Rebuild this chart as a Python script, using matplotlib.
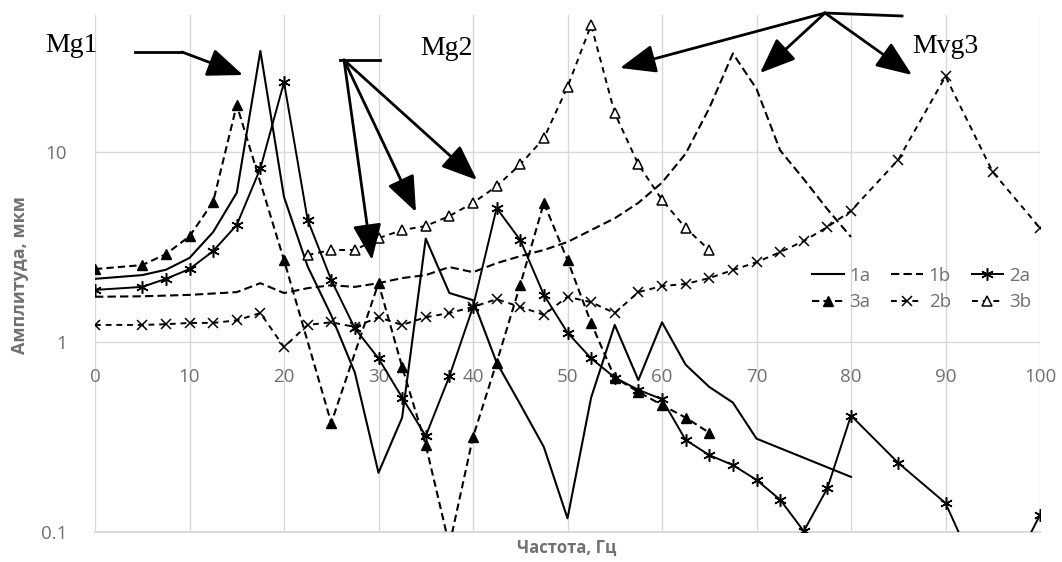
import matplotlib
matplotlib.use("Agg")
import matplotlib.pyplot as plt
from matplotlib.lines import Line2D
from matplotlib.patches import FancyArrowPatch
from matplotlib.ticker import FixedLocator, FixedFormatter, NullLocator

# ── data ──────────────────────────────────────────────────────────────────
x_1a = [0, 5, 7.5, 10, 12.5, 15, 17.5, 20, 22.5, 25, 27.5, 30, 32.5, 35, 37.5,
        40, 42.5, 45, 47.5, 50, 52.5, 55, 57.5, 60, 62.5, 65, 67.5, 70, 80]
y_1a = [2.15, 2.25, 2.4, 2.77, 3.79, 6.1, 34, 5.8, 2.5, 1.38, 0.69, 0.205, 0.40,
        3.5, 1.81, 1.66, 0.78, 0.47, 0.28, 0.118, 0.51, 1.23, 0.63, 1.27, 0.76,
        0.58, 0.48, 0.31, 0.195]

x_1b = [0, 5, 10, 15, 17.5, 20, 22.5, 25, 27.5, 30, 32.5, 35, 37.5, 40, 42.5,
        45, 47.5, 50, 52.5, 55, 57.5, 60, 62.5, 65, 67.5, 70, 72.5, 75, 77.5, 80]
y_1b = [1.73, 1.74, 1.77, 1.83, 2.04, 1.81, 1.92, 1.99, 1.95, 2.04, 2.17, 2.25,
        2.48, 2.33, 2.6, 2.83, 3.05, 3.36, 3.88, 4.48, 5.4, 6.9, 9.8, 17, 33,
        21.5, 10.2, 7.2, 5.0, 3.57]

x_2a = [0, 5, 7.5, 10, 12.5, 15, 17.5, 20, 22.5, 25, 27.5, 30, 32.5, 35, 37.5,
        40, 42.5, 45, 47.5, 50, 52.5, 55, 57.5, 60, 62.5, 65, 67.5, 70, 72.5,
        75, 77.5, 80, 85, 90, 95, 100]
y_2a = [1.88, 1.95, 2.15, 2.42, 3.01, 4.13, 8.2, 23.3, 4.4, 2.12, 1.18, 0.82,
        0.51, 0.32, 0.66, 1.53, 5.07, 3.44, 1.77, 1.12, 0.82, 0.65, 0.56, 0.50,
        0.305, 0.254, 0.225, 0.188, 0.148, 0.101, 0.17, 0.41, 0.231, 0.142,
        0.04, 0.123]

x_3a = [0, 5, 7.5, 10, 12.5, 15, 20, 25, 30, 32.5, 35, 37.5, 40, 42.5, 45,
        47.5, 50, 52.5, 55, 57.5, 60, 62.5, 65]
y_3a = [2.42, 2.54, 2.9, 3.6, 5.46, 17.7, 2.7, 0.375, 2.04, 0.74, 0.287, 0.085,
        0.316, 0.78, 2.0, 5.4, 2.7, 1.26, 0.65, 0.546, 0.466, 0.40, 0.333]

x_2b = [0, 5, 7.5, 10, 12.5, 15, 17.5, 20, 22.5, 25, 27.5, 30, 32.5, 35, 37.5,
        40, 42.5, 45, 47.5, 50, 52.5, 55, 57.5, 60, 62.5, 65, 67.5, 70, 72.5,
        75, 77.5, 80, 85, 90, 95, 100]
y_2b = [1.23, 1.23, 1.24, 1.26, 1.26, 1.30, 1.42, 0.94, 1.23, 1.27, 1.2, 1.35,
        1.23, 1.35, 1.42, 1.53, 1.68, 1.53, 1.39, 1.73, 1.62, 1.42, 1.83, 1.97,
        2.02, 2.17, 2.39, 2.63, 2.97, 3.4, 4.03, 4.9, 9.1, 25, 7.85, 3.98]

x_3b = [22.5, 25, 27.5, 30, 32.5, 35, 37.5, 40, 42.5, 45, 47.5, 50, 52.5, 55,
        57.5, 60, 62.5, 65]
y_3b = [2.87, 3.05, 3.05, 3.52, 3.88, 4.08, 4.6, 5.4, 6.6, 8.6, 11.8, 22, 46.6,
        16, 8.6, 5.6, 3.98, 3.05]

x_ticks = [0, 10, 20, 30, 40, 50, 60, 70, 80, 90, 100]
y_ticks = [0.1, 1, 10]
y_tick_labels = ["0.1", "1", "10"]

W, H = 1062, 562
GREY = "#707070"
FONT = ["Open Sans", "DejaVu Sans"]
plt.rcParams["font.family"] = FONT

fig = plt.figure(figsize=(W / 100, H / 100), dpi=100)
# plot area in pixels: x 95..1040, y 15..532
ax = fig.add_axes([95 / W, 1 - 532 / H, (1040 - 95) / W, (532 - 15) / H])
ax.set_yscale("log")
ax.set_xlim(0, 100)
ax.set_ylim(0.1, 10 ** ((342 - 15) / 190))

lw = 1.5
h1a, = ax.plot(x_1a, y_1a, "-", color="black", lw=lw, label="1a")
h1b, = ax.plot(x_1b, y_1b, color="black", lw=lw, ls=(0, (4, 2)), label="1b")
h2a, = ax.plot(x_2a, y_2a, "-", color="black", lw=1.4, marker=(6, 2, 0),
               ms=9, mew=1.1, label="2a")
h3a, = ax.plot(x_3a, y_3a, color="black", lw=lw, ls=(0, (3.5, 2)), marker="^",
               ms=6.5, label="3a")
h2b, = ax.plot(x_2b, y_2b, color="black", lw=1.4, ls=(0, (3, 2.5)), marker="x",
               ms=7, mew=1.1, label="2b")
h3b, = ax.plot(x_3b, y_3b, color="black", lw=1.4, ls=(0, (3, 2.5)), marker="^",
               ms=7.5, mfc="white", mew=1.1, label="3b")

# axes styling: Excel-like, x labels sit on the y=1 line
for s in ax.spines.values():
    s.set_visible(False)
ax.spines["bottom"].set_position(("data", 1))
ax.xaxis.set_major_locator(FixedLocator(x_ticks))
ax.yaxis.set_major_locator(FixedLocator(y_ticks))
ax.yaxis.set_major_formatter(FixedFormatter(y_tick_labels))
ax.yaxis.set_minor_locator(NullLocator())
ax.tick_params(length=0, labelsize=13.5, labelcolor=GREY)
ax.tick_params(axis="x", pad=19)
ax.tick_params(axis="y", pad=20)
ax.grid(True, color="#d9d9d9", lw=1.0)
ax.set_axisbelow(True)
ax.axhline(0.1, color="#d9d9d9", lw=1.5, zorder=0.5, clip_on=False)

fig.text(567 / W, 1 - 548 / H, "Частота, Гц", ha="center", va="center",
         fontsize=12, fontweight="bold", color=GREY)
fig.text(20 / W, 1 - 275 / H, "Амплитуда, мкм", ha="center", va="center",
         rotation=90, fontsize=13, fontweight="bold", color=GREY)

# legend: rows 1a 1b 2a / 3a 2b 3b (matplotlib fills columns first)
leg = ax.legend([h1a, h3a, h1b, h2b, h2a, h3b],
                ["1a", "3a", "1b", "2b", "2a", "3b"],
                ncol=3, frameon=False, fontsize=13.5, labelcolor=GREY,
                handlelength=1.7, handletextpad=0.3, columnspacing=1.1,
                labelspacing=0.45, loc="upper left",
                bbox_to_anchor=(795 / W, 1 - 250 / H),
                bbox_transform=fig.transFigure)


# ── hand-drawn annotations (figure pixel coordinates, origin top-left) ────
def fp(x, y):
    return (x / W, 1 - y / H)


def seg(p, q):
    a, b = fp(*p), fp(*q)
    fig.add_artist(Line2D([a[0], b[0]], [a[1], b[1]], color="black", lw=2,
                          transform=fig.transFigure))


def arrow(p, q):
    fig.add_artist(FancyArrowPatch(fp(*p), fp(*q), transform=fig.transFigure,
                                   arrowstyle="-|>,head_length=1.0,head_width=0.4",
                                   mutation_scale=22, color="black", lw=2,
                                   shrinkA=0, shrinkB=0))


serif = dict(family="Liberation Serif", fontsize=20, color="black",
             va="baseline", ha="left")
fig.text(*fp(45, 52), "Mg1", **serif)
fig.text(*fp(420, 55), "Mg2", **serif)
fig.text(*fp(912, 53), "Mvg3", **serif)

seg((135, 52), (182, 52))
arrow((182, 52), (243, 75))

seg((340, 60), (380, 60))
for tip in [(372, 260), (416, 212), (477, 180)]:
    arrow((344, 60), tip)

seg((825, 13), (902, 16))
for tip in [(620, 68), (760, 73), (912, 75)]:
    arrow((825, 13), tip)

fig.savefig("out.png", dpi=100)
